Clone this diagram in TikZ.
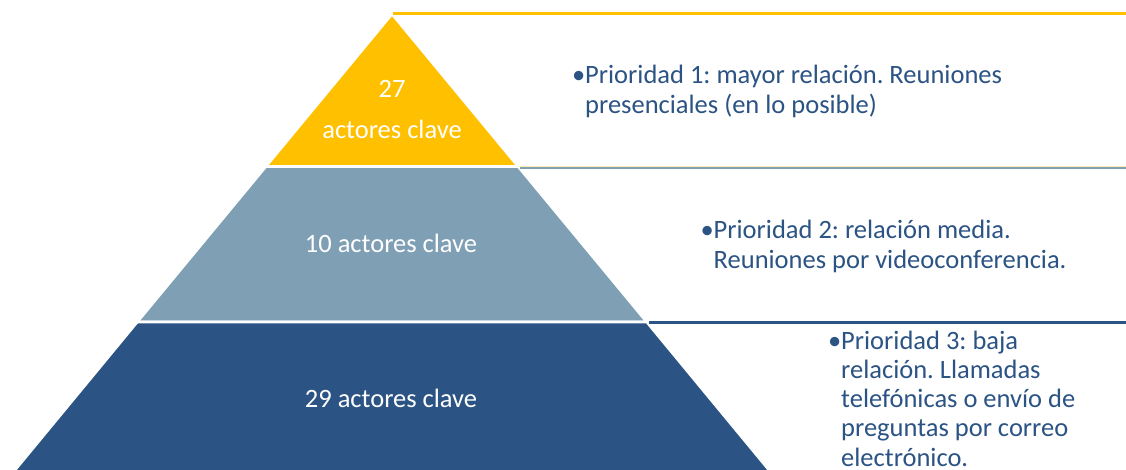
\documentclass[tikz,border=0pt]{standalone}
\usepackage{xcolor}
\usepackage{fontspec}
\setmainfont{Carlito}
\usepackage{tikz}
\usetikzlibrary{calc}
\frenchspacing
\definecolor{tier_gold}{HTML}{FFC000}
\definecolor{tier_grey}{HTML}{7F9FB5}
\definecolor{tier_blue}{HTML}{2B5384}
\tikzset{ tier/.style = {draw=white, line width=2.6pt} }
\tikzset{ tier_label/.style = {anchor=base, inner sep=0pt, text=white, font=\fontsize{26.5}{30}\selectfont} }
\tikzset{ prio_text/.style = {anchor=base west, inner sep=0pt, align=left, text=tier_blue, font=\fontsize{26.5}{30}\selectfont} }
\tikzset{ rule/.style = {line width=2.5pt} }

\begin{document}
\begin{tikzpicture}[x=1pt,y=-1pt]
    \useasboundingbox[fill=white] (0,0) rectangle (1126,470);
    % pyramid corners
    \coordinate (A) at (392,14);
    \coordinate (B1) at (265.9,166.5);
    \coordinate (B2) at (518.1,166.5);
    \coordinate (C1) at (137.3,322);
    \coordinate (C2) at (646.7,322);
    \coordinate (D1) at (12.6,473);
    \coordinate (D2) at (771.4,473);
    \filldraw[tier, fill=tier_gold] (A) -- (B2) -- (B1) -- cycle;
    \filldraw[tier, fill=tier_grey] (B1) -- (B2) -- (C2) -- (C1) -- cycle;
    \filldraw[tier, fill=tier_blue] (C1) -- (C2) -- (D2) -- (D1) -- cycle;
    % rules to the right
    \coordinate (l1) at (393,13.4);
    \coordinate (r1) at (1126,13.4);
    \coordinate (l2) at (520,168.3);
    \coordinate (r2) at (1126,168.3);
    \coordinate (l3) at (649,322.7);
    \coordinate (r3) at (1126,322.7);
    \draw[rule, tier_gold] (l1) -- (r1);
    \draw[line width=0.5pt, tier_gold!30] ($(l2)+(-1,-1.9)$) -- ($(r2)+(0,-1.9)$);
    \draw[line width=2.2pt, tier_grey] (l2) -- (r2);
    \draw[rule, tier_blue] (l3) -- (r3);
    % tier labels
    \node[tier_label] (n27) at (392,98) {27};
    \node[tier_label] (k27) at (392,138.3) {actores clave};
    \node[tier_label] (n10) at (391,252.7) {10 actores clave};
    \node[tier_label] (n29) at (391,407.3) {29 actores clave};
    % priorities (base = last line)
    \node[prio_text] (p1) at (585,114) {\llap{•}Prioridad 1: mayor relación. Reuniones\\presenciales (en lo posible)};
    \node[prio_text] (p2) at (713.5,268.3) {\llap{•}Prioridad 2: relación media.\\Reuniones por videoconferencia.};
    \node[prio_text, font=\fontsize{26.5}{29.2}\selectfont] (p3) at (841,466) {\llap{•}Prioridad 3: baja\\relación. Llamadas\\telefónicas o envío de\\preguntas por correo\\electrónico.};
\end{tikzpicture}
\end{document}
